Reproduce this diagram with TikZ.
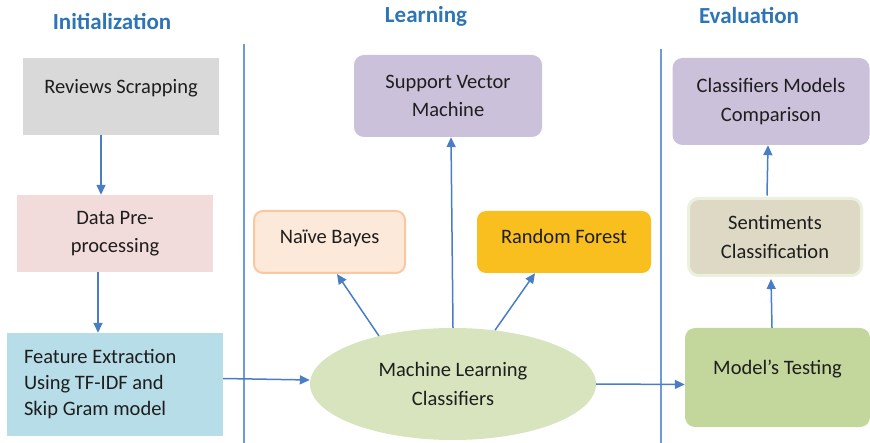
\documentclass[tikz,border=0pt]{standalone}
\usepackage{fontspec}
\setmainfont{Carlito}
\usetikzlibrary{arrows.meta,shapes.geometric}
\definecolor{titleblue}{HTML}{2E75B6}
\definecolor{linkblue}{HTML}{4A7EC4}
\definecolor{sepblue}{HTML}{6A9BD8}
\definecolor{txtgray}{HTML}{1E1E1E}
\definecolor{gbox}{HTML}{D9D9D9}
\definecolor{pbox}{HTML}{F2DCDB}
\definecolor{bbox}{HTML}{B7DDE8}
\definecolor{lav}{HTML}{CCC1DA}
\definecolor{nbfill}{HTML}{FDE9D9}
\definecolor{nbdraw}{HTML}{FAC8A0}
\definecolor{rffill}{HTML}{F9BF1E}
\definecolor{mlfill}{HTML}{D7E4BD}
\definecolor{scfill}{HTML}{DDD9C4}
\definecolor{scdraw}{HTML}{EBF1DE}
\definecolor{mtfill}{HTML}{C3D69B}
\begin{document}
\begin{tikzpicture}[x=1pt,y=-1pt,
  title/.style={text=titleblue,font=\fontsize{23}{27}\selectfont\bfseries},
  box/.style={rectangle,inner sep=0pt,align=center,text=txtgray,font=\fontsize{20.5}{28.5}\selectfont},
  rbox/.style={box,rounded corners=10pt},
  arr/.style={draw=linkblue,line width=1.5pt,-{Triangle[length=10pt,width=9pt]}},
  sepline/.style={draw=sepblue,line width=1.2pt}]
\useasboundingbox (0,0) rectangle (870,443);
% titles
\node[title] (t1) at (112,22) {Initialization};
\node[title] (t2) at (426,16) {Learning};
\node[title] (t3) at (749,16) {Evaluation};
% separators
\coordinate (s1a) at (244,44); \coordinate (s1b) at (244,443);
\coordinate (s2a) at (661,49); \coordinate (s2b) at (661,443);
\draw[sepline] (s1a) -- (s1b);
\draw[sepline] (s2a) -- (s2b);
% left column
\node[box,fill=gbox,minimum width=196pt,minimum height=77pt,text height=15pt,text depth=21pt] (rs) at (121,96.5) {Reviews Scrapping};
\node[box,fill=pbox,minimum width=196pt,minimum height=77pt] (dp) at (115,233.5) {Data Pre-\\processing};
\node[box,fill=bbox,minimum width=216pt,minimum height=103pt,text width=182pt,align=flush left,font=\fontsize{20.5}{26}\selectfont] (fe) at (115,384.5) {Feature Extraction\\Using TF-IDF and\\Skip Gram model};
% middle
\node[rbox,fill=lav,minimum width=188pt,minimum height=82pt] (svm) at (448,96) {Support Vector\\Machine};
\node[rbox,fill=nbfill,draw=nbdraw,line width=2pt,rounded corners=9pt,minimum width=151pt,minimum height=62pt,text height=15pt,text depth=11pt] (nb) at (329.5,242) {Naïve Bayes};
\node[rbox,fill=rffill,rounded corners=9pt,minimum width=174pt,minimum height=62pt,text height=15pt,text depth=11pt] (rf) at (564,242) {Random Forest};
\node[ellipse,fill=mlfill,inner sep=0pt,minimum width=286pt,minimum height=112pt,align=center,text=txtgray,font=\fontsize{20.5}{29}\selectfont] (ml) at (453,384) {Machine Learning\\Classifiers};
% right
\node[rbox,fill=lav,minimum width=197pt,minimum height=87pt] (cmc) at (771,101.5) {Classifiers Models\\Comparison};
\node[rbox,fill=scfill,draw=scdraw,line width=3pt,minimum width=173pt,minimum height=77pt] (sc) at (775,237) {Sentiments\\Classification};
\node[rbox,fill=mtfill,minimum width=185pt,minimum height=99pt,text height=15pt,text depth=21pt] (mt) at (777.5,377.5) {Model’s Testing};
% connectors
\draw[arr] ([xshift=-20pt]rs.south) -- ([xshift=-14pt]dp.north);
\draw[arr] ([xshift=-17pt]dp.south) -- ([xshift=-17pt]fe.north);
\draw[arr] ([yshift=6pt]fe.east) -- ([yshift=4pt]ml.west);
\draw[arr] (ml.147) -- ([xshift=7.5pt]nb.south);
\draw[arr] (ml.north) -- ([xshift=3pt]svm.south);
\draw[arr] (ml.52) -- ([xshift=-29pt]rf.south);
\draw[arr] (ml.east) -- ([yshift=-7pt]mt.west);
\draw[arr] ([xshift=-5.5pt]mt.north) -- ([xshift=-4pt,yshift=-2pt]sc.south);
\draw[arr] ([xshift=-8pt,yshift=1.5pt]sc.north) -- ([xshift=-3pt]cmc.south);
\end{tikzpicture}
\end{document}
